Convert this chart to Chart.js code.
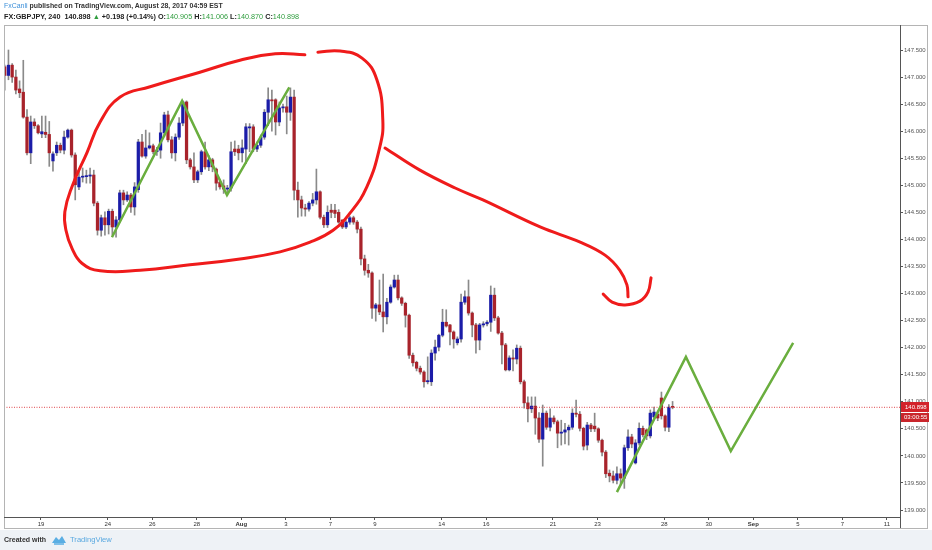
<!DOCTYPE html>
<html><head><meta charset="utf-8">
<script src="https://cdn.jsdelivr.net/npm/chart.js@4.4.1/dist/chart.umd.min.js"></script>
<style>
html,body{margin:0;padding:0;background:#fff;width:932px;height:550px;overflow:hidden;font-family:'Liberation Sans',Arial,sans-serif}
#c{position:absolute;left:0;top:0}
#foot{position:absolute;left:0;top:530px;width:932px;height:20px;background:#eef2f6}
.t{position:absolute;white-space:nowrap;line-height:1}
.g{color:#2f9d3e;font-weight:normal}
</style></head><body>
<div id="foot"></div>
<canvas id="c" width="932" height="550"></canvas>
<div class="t" style="left:4px;top:3px;font-size:6.95px;font-weight:bold;color:#333"><span style="color:#3c8fd9;font-weight:normal">FxCanli</span> published on TradingView.com, August 28, 2017 04:59 EST</div>
<div class="t" style="left:4px;top:13px;font-size:7.25px;font-weight:bold;color:#222">FX:GBPJPY, 240&nbsp; 140.898 <span class="g">▲</span> +0.198 (+0.14%) O:<span class="g">140.905</span> H:<span class="g">141.006</span> L:<span class="g">140.870</span> C:<span class="g">140.898</span></div>
<div class="t" style="left:4px;top:536px;font-size:7px;font-weight:bold;color:#333">Created with</div>
<svg class="t" style="left:51px;top:534px" width="16" height="11" viewBox="0 0 16 11"><path d="M1 9 L5 3 L8 6 L11 2 L15 9 Z" fill="#5aaee3"/><path d="M3 10 L13 10" stroke="#5aaee3" stroke-width="1.5"/></svg>
<div class="t" style="left:70px;top:536px;font-size:7.6px;color:#5aa9e0">TradingView</div>
<script>
// ---- data (4h candles, index = bar number) ----
const opens = [147.19,147.03,147.22,147.00,146.78,146.72,146.26,145.60,146.17,146.10,145.95,145.98,145.94,145.45,145.60,145.74,145.65,145.89,146.02,145.56,
144.97,145.15,145.16,145.17,145.19,144.67,144.17,144.40,144.27,144.52,144.23,144.36,144.86,144.73,144.82,144.60,144.92,145.80,145.54,145.69,
145.73,145.62,145.65,145.97,146.30,145.84,145.60,145.89,146.15,146.54,145.47,145.34,145.10,145.25,145.62,145.34,145.47,145.30,145.06,144.99,
144.93,144.95,145.67,145.67,145.60,145.67,146.06,146.08,145.67,145.74,145.89,146.35,146.58,146.58,146.17,146.43,146.45,146.35,146.63,144.91,
144.73,144.58,144.56,144.67,144.73,144.88,144.41,144.27,144.54,144.54,144.50,144.36,144.23,144.32,144.40,144.32,144.19,143.64,143.43,143.38,
142.73,142.79,142.66,142.57,142.84,143.12,143.25,142.92,142.82,142.60,141.86,141.73,141.62,141.55,141.37,141.37,141.90,142.01,142.23,142.47,
142.42,142.29,142.09,142.16,142.84,142.94,142.64,142.42,142.14,142.42,142.44,142.47,142.97,142.55,142.27,142.05,141.59,141.81,141.79,141.99,
141.37,140.98,140.87,140.92,140.70,140.31,140.79,140.53,140.70,140.63,140.42,140.44,140.48,140.53,140.79,140.77,140.51,140.20,140.57,140.55,
140.50,140.29,140.07,139.68,139.63,139.55,139.67,139.59,140.15,140.35,139.87,140.24,140.51,140.48,140.37,140.72,140.77,141.07,140.74,140.53,140.905];
const highs = [147.22,147.50,147.25,147.13,146.93,147.31,146.40,146.28,146.23,146.12,146.28,146.28,146.18,145.62,145.80,145.78,146.00,146.04,146.04,145.60,
145.30,145.32,145.28,145.32,145.28,144.70,144.45,144.51,144.56,144.56,144.42,144.91,144.91,144.88,144.85,145.05,145.85,145.94,146.02,145.97,
145.76,145.70,146.15,146.35,146.37,145.90,145.95,146.25,146.56,146.56,145.50,145.60,145.28,145.65,145.80,145.55,145.50,145.32,145.10,145.10,
145.00,145.80,145.82,145.74,145.84,146.14,146.14,146.12,145.80,145.93,146.40,146.80,146.76,146.60,146.54,146.50,146.65,146.80,146.76,145.06,
144.80,144.65,144.70,144.85,145.30,144.90,144.45,144.62,144.65,144.65,144.55,144.36,144.35,144.43,144.43,144.35,144.23,143.71,143.54,143.40,
142.82,143.25,143.36,142.91,143.16,143.34,143.34,142.94,142.84,142.62,141.90,141.75,141.66,141.57,141.83,141.96,142.14,142.25,142.71,142.70,
142.43,142.31,142.20,142.99,143.05,143.25,142.66,142.45,142.45,142.48,142.50,143.14,143.10,142.58,142.30,142.08,141.85,141.96,142.05,142.03,
141.40,141.09,141.09,141.09,140.80,140.94,140.83,140.87,140.74,140.66,140.66,140.60,140.57,140.87,141.03,140.82,140.53,140.62,140.60,140.79,
140.52,140.31,140.10,139.74,139.72,139.80,139.76,140.20,140.48,140.40,140.30,140.61,140.55,140.50,140.85,140.90,140.83,141.18,140.76,140.95,141.006];
const lows = [146.76,146.95,146.90,146.69,146.62,146.24,145.56,145.40,146.05,145.95,145.88,145.88,145.35,145.26,145.55,145.60,145.58,145.87,145.52,144.73,
144.92,145.06,145.04,145.04,144.62,144.08,144.06,144.08,144.10,144.08,144.04,144.32,144.64,144.70,144.50,144.45,144.87,145.52,145.50,145.67,
145.58,145.55,145.50,145.90,145.80,145.50,145.45,145.85,146.10,145.40,145.30,145.05,145.05,145.20,145.30,145.27,145.25,144.91,144.93,144.85,
144.82,144.89,145.55,145.47,145.43,145.40,145.62,145.62,145.62,145.70,145.85,146.10,146.00,145.93,146.10,146.35,145.95,146.20,144.73,144.41,
144.43,144.43,144.52,144.62,144.65,144.38,144.22,144.22,144.40,144.40,144.30,144.20,144.20,144.28,144.28,144.12,143.53,143.34,143.30,142.54,
142.49,142.61,142.29,142.44,142.82,143.10,142.88,142.78,142.38,141.80,141.66,141.57,141.51,141.27,141.33,141.30,141.77,141.94,142.20,142.38,
142.05,141.99,142.05,142.10,142.80,142.60,142.20,141.90,141.96,142.38,142.40,142.30,142.50,142.25,141.70,141.57,141.57,141.57,141.70,141.33,
140.88,140.63,140.80,140.40,140.25,139.81,140.49,140.46,140.59,140.15,140.20,140.22,140.20,140.49,140.72,140.46,140.11,140.11,140.45,140.45,
140.25,140.00,139.60,139.52,139.50,139.48,139.48,139.40,140.10,140.15,139.85,140.20,140.35,140.30,140.33,140.68,140.65,140.68,140.46,140.45,140.870];
const closes = [147.03,147.22,147.00,146.76,146.71,146.26,145.60,146.17,146.10,145.97,145.99,145.94,145.60,145.58,145.74,145.65,145.89,146.02,145.56,145.01,
145.15,145.16,145.17,145.19,144.67,144.17,144.40,144.27,144.52,144.23,144.36,144.86,144.73,144.82,144.60,144.97,145.80,145.54,145.69,145.73,
145.62,145.65,145.97,146.30,145.84,145.60,145.89,146.15,146.54,145.47,145.34,145.10,145.25,145.62,145.34,145.47,145.34,145.04,144.97,144.93,
144.95,145.62,145.62,145.60,145.69,146.08,146.08,145.67,145.74,145.89,146.35,146.58,146.56,146.17,146.43,146.45,146.35,146.63,144.91,144.73,
144.58,144.56,144.67,144.73,144.88,144.41,144.27,144.50,144.50,144.48,144.32,144.23,144.32,144.40,144.32,144.19,143.64,143.43,143.38,142.73,
142.79,142.66,142.57,142.84,143.12,143.25,142.92,142.82,142.60,141.86,141.72,141.62,141.55,141.37,141.39,141.90,142.01,142.23,142.47,142.40,
142.29,142.16,142.16,142.84,142.94,142.64,142.42,142.14,142.42,142.44,142.47,142.97,142.55,142.27,142.05,141.59,141.81,141.79,141.99,141.37,
140.98,140.87,140.92,140.70,140.31,140.79,140.53,140.70,140.63,140.42,140.44,140.48,140.53,140.79,140.77,140.51,140.18,140.57,140.50,140.50,
140.29,140.07,139.67,139.63,139.55,139.67,139.59,140.15,140.35,140.22,140.24,140.51,140.39,140.37,140.79,140.81,140.70,140.74,140.53,140.90,140.898];
const lastPrice = 140.898;
const countdown = '03:00:55';

// x-axis: trading-day ticks (day offset from Jul 19) and labels
const dayOffsets = [0,3,5,7,9,11,13,15,18,20,23,25,28,30,32,34,36,38];
const dayLabels  = ['19','24','26','28','Aug','3','7','9','14','16','21','23','28','30','Sep','5','7','11'];
const firstDayBar = 9.77;   // bar position of the Jul 19 day boundary
const barsPerDay = 6;
const yTicks = [139,139.5,140,140.5,141,141.5,142,142.5,143,143.5,144,144.5,145,145.5,146,146.5,147,147.5];

// hand drawings (bar index, price)
const zigLeftX  = [28.9, 47.8, 59.9, 76.7];
const zigLeftY  = [144.04, 146.56, 144.82, 146.81];
const zigRightX = [165.0, 183.6, 195.7, 212.5];
const zigRightY = [139.33, 141.83, 140.09, 142.09];
const loopX = [84.4,90.4,96.3,100.3,101.9,101.1,97.6,93.1,88.5,82.3,74.2,63.4,49.9,36.5,25.7,20.8,18.1,16.5,16.2,18.1,22.2,25.7,31.1,39.2,52.6,63.4,72.9,80.9];
const loopY = [147.46,147.48,147.35,146.95,146.21,145.71,144.97,144.49,144.17,143.95,143.77,143.64,143.53,143.43,143.42,143.56,143.84,144.17,144.51,144.97,145.61,146.17,146.63,146.82,147.09,147.31,147.43,147.41];
const arrowX = [102.5,111.9,121.4,128.9,144.3,155.1,161.8,165.8,167.7,168.0];
const arrowY = [145.69,145.28,144.95,144.73,144.23,143.95,143.71,143.43,143.16,142.94];
const hookX = [161.3,163.7,167.2,171.2,173.4,174.2];
const hookY = [142.99,142.84,142.79,142.86,143.03,143.29];

const pts = (xs, ys) => xs.map((x, i) => ({x, y: ys[i]}));
const UP = '#1b1ca8', DOWN = '#a8232b';
const candleColor = c => closes[c.dataIndex] >= opens[c.dataIndex] ? UP : DOWN;

const framePlugin = {
  id: 'frame',
  afterDraw(chart) {
    const {ctx, chartArea: a, scales} = chart;
    ctx.save();
    ctx.strokeStyle = '#b4b4b4'; ctx.lineWidth = 1;
    ctx.strokeRect(4.5, 25.5, 923, 503);
    ctx.strokeStyle = '#555';
    ctx.beginPath();
    ctx.moveTo(a.left, a.bottom + 0.5); ctx.lineTo(a.right, a.bottom + 0.5);
    ctx.moveTo(a.right + 0.5, a.top); ctx.lineTo(a.right + 0.5, 528);
    ctx.stroke();
    const y = Math.round(scales.y.getPixelForValue(lastPrice));
    ctx.fillStyle = '#d3222a';
    ctx.fillRect(901, y - 5, 28, 10);
    ctx.fillStyle = '#c9262c';
    ctx.fillRect(901, y + 6, 28, 9);
    ctx.fillStyle = '#fff';
    ctx.font = '6px "Liberation Sans"';
    ctx.textBaseline = 'middle';
    ctx.fillText(lastPrice.toFixed(3), 905, y + 0.5);
    ctx.fillText(countdown, 904, y + 10.5);
    ctx.restore();
  }
};

new Chart(document.getElementById('c'), {
  type: 'bar',
  data: {
    datasets: [
      {type: 'line', data: pts(loopX, loopY), borderColor: '#ef1b1b', borderWidth: 3, tension: 0.45, pointRadius: 0, order: 1, borderCapStyle: 'round'},
      {type: 'line', data: pts(arrowX, arrowY), borderColor: '#ef1b1b', borderWidth: 3, tension: 0.4, pointRadius: 0, order: 1, borderCapStyle: 'round'},
      {type: 'line', data: pts(hookX, hookY), borderColor: '#ef1b1b', borderWidth: 3, tension: 0.4, pointRadius: 0, order: 1, borderCapStyle: 'round'},
      {type: 'line', data: pts(zigLeftX, zigLeftY), borderColor: '#6aae3e', borderWidth: 2.5, tension: 0, pointRadius: 0, order: 2},
      {type: 'line', data: pts(zigRightX, zigRightY), borderColor: '#6aae3e', borderWidth: 2.5, tension: 0, pointRadius: 0, order: 2},
      {type: 'line', data: [{x: -0.2, y: lastPrice}, {x: 241.3, y: lastPrice}], borderColor: '#e0474c', borderWidth: 1, borderDash: [1, 1.5], pointRadius: 0, order: 3},
      {data: opens.map((o, i) => ({x: i, y: [o, closes[i]]})), backgroundColor: candleColor, barThickness: 2.6, minBarLength: 1, grouped: false, order: 4},
      {data: lows.map((l, i) => ({x: i, y: [l, highs[i]]})), backgroundColor: '#8a8a8a', barThickness: 1, minBarLength: 1, grouped: false, order: 5}
    ]
  },
  options: {
    responsive: false, animation: false, devicePixelRatio: 1,
    layout: {padding: {left: 4, right: 4, top: 25, bottom: 22}},
    plugins: {legend: {display: false}, tooltip: {enabled: false}},
    scales: {
      x: {
        type: 'linear', min: -0.2, max: 241.3, offset: false,
        afterBuildTicks: s => { s.ticks = dayOffsets.map(d => ({value: firstDayBar + d * barsPerDay})); },
        afterFit: s => { s.height = 11; },
        grid: {drawOnChartArea: false, tickLength: 3, color: '#555', offset: false},
        border: {display: false},
        ticks: {
          autoSkip: false, maxRotation: 0, padding: 1, color: '#333',
          font: c => ({size: 6, family: 'Liberation Sans', weight: (c.index === 4 || c.index === 14) ? 'bold' : 'normal'}),
          callback: (v, i) => dayLabels[i]
        }
      },
      y: {
        position: 'right', min: 138.871, max: 147.962,
        afterBuildTicks: s => { s.ticks = yTicks.map(v => ({value: v})); },
        afterFit: s => { s.width = 28; },
        grid: {drawOnChartArea: false, tickLength: 3, color: '#555', offset: false},
        border: {display: false},
        ticks: {padding: 1, color: '#555', font: {size: 6, family: 'Liberation Sans'}, callback: v => Number(v).toFixed(3)}
      }
    }
  },
  plugins: [framePlugin]
});
</script>
</body></html>
